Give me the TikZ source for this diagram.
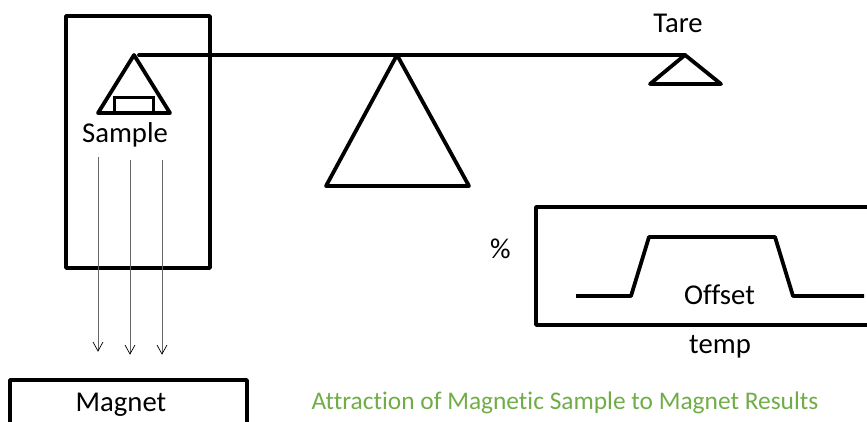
\documentclass[tikz,border=0pt]{standalone}
\usepackage{fontspec}
\setmainfont[Ligatures=NoCommon]{Carlito}
\definecolor{titlegreen}{RGB}{112,173,71}
\begin{document}
\begin{tikzpicture}[x=1pt,y=-1pt,
    thickline/.style={line width=3.8pt,line cap=round,line join=round},
    fieldline/.style={line width=0.8pt,black!60},
    fieldtip/.style={line width=0.7pt,black},
    lab/.style={font=\fontsize{28.7}{32}\selectfont,inner sep=0pt}]
\useasboundingbox (0,0) rectangle (867,422);

   % chamber, pan and sample
   \draw[thickline] (66,16) rectangle (210,268);
   \draw[thickline] (134,55)--(170,113)--(98,113)-- cycle;
   \draw[line width=3pt] (114.5,113)--(114.5,98)--(153,98)--(153,113);
   \node[lab] (sample) at (125,135) {Sample};

   % beam and pivot
   \draw[thickline] (139,55)--(685,55);
   \draw[thickline] (397,55)--(469,186)--(326,186)-- cycle;

   % tare pan
   \draw[thickline] (685,55)--(721,84)--(650,84)-- cycle;
   \node[lab] (tare) at (678,23.5) {Tare};

   % field lines
   \foreach \x/\ya/\yb [count=\i] in {98/157/351,130/160/354,162/160/354}{
      \coordinate (top\i) at (\x,\ya);
      \coordinate (tip\i) at (\x,\yb);
      \draw[fieldline] (top\i) -- (tip\i);
      \draw[fieldtip] ([shift={(-5,-9)}]tip\i) -- (tip\i) -- ([shift={(5,-9)}]tip\i);
   }

   % magnet
   \draw[thickline,line cap=butt] (10,422)--(10,380)--(247,380)--(247,422);
   \node[lab] (magnet) at (121,404.5) {Magnet};

   % result plot
   \draw[thickline,line cap=butt] (867,207)--(536,207)--(536,325)--(867,325);
   \draw[thickline,line cap=butt] (576,296)--(631,296)--(649,237)--(775,237)--(793,296)--(864,296);
   \node[lab] (percent) at (500.5,248.5) {\%};
   \node[lab] (offset) at (719.5,295) {Offset};
   \node[lab] (temp) at (720,347) {temp};

   \node[lab,text=titlegreen,font=\fontsize{25.4}{28}\selectfont] (result) at (565,403) {Attraction of Magnetic Sample to Magnet Results};
\end{tikzpicture}
\end{document}
